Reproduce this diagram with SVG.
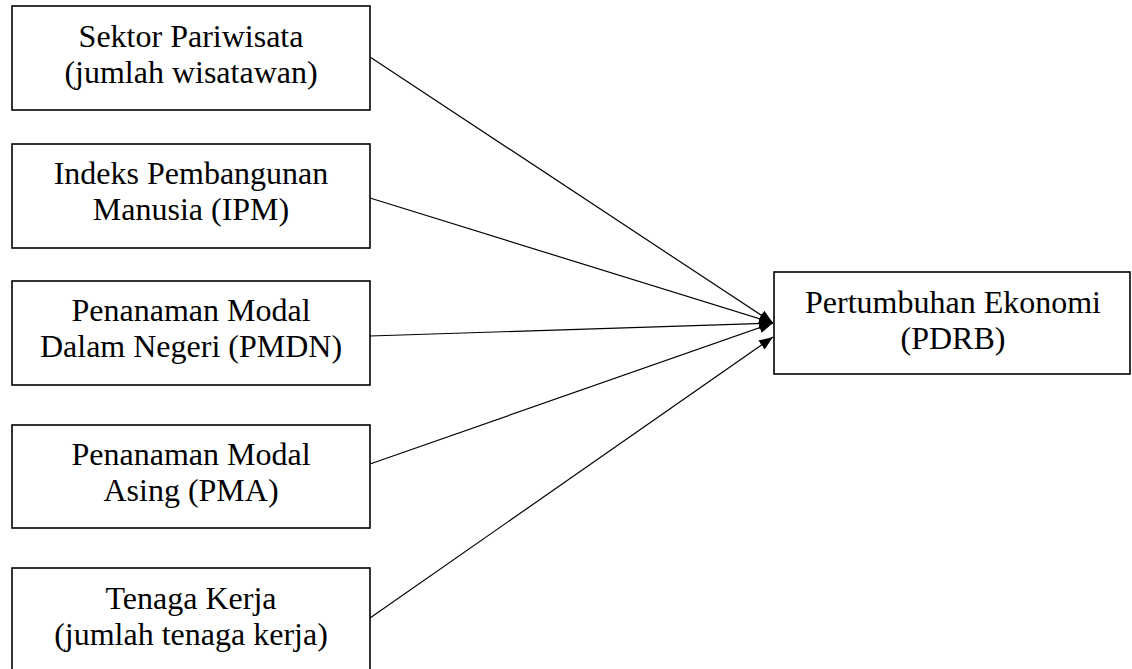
<svg xmlns="http://www.w3.org/2000/svg" width="1132" height="669" viewBox="0 0 1132 669">
<style>
.box{fill:#fff;stroke:#000;stroke-width:1.6}
.t{font-family:"Liberation Serif","Times New Roman",serif;font-size:32px;fill:#000;text-anchor:middle}
.c{stroke:#000;stroke-width:1.2;fill:none;marker-end:url(#ah)}
</style>
<defs>
<marker id="ah" markerWidth="14" markerHeight="11" refX="14" refY="5.5" orient="auto" markerUnits="userSpaceOnUse">
<path d="M0,0 L14,5.5 L0,11 Z" fill="#000"/>
</marker>
</defs>
<rect width="1132" height="669" fill="#fff"/>
<g id="connectors">
<line class="c" x1="370" y1="57" x2="773" y2="323"/>
<line class="c" x1="370" y1="198" x2="773" y2="323"/>
<line class="c" x1="370" y1="336" x2="773" y2="323"/>
<line class="c" x1="370" y1="464" x2="773" y2="323"/>
<line class="c" x1="370" y1="618" x2="773" y2="337"/>
</g>
<g id="n1">
<rect class="box" x="12" y="6" width="358" height="104"/>
<text class="t" x="191" y="47">Sektor Pariwisata</text>
<text class="t" x="191" y="83">(jumlah wisatawan)</text>
</g>
<g id="n2">
<rect class="box" x="12" y="144" width="358" height="104"/>
<text class="t" x="191" y="184">Indeks Pembangunan</text>
<text class="t" x="191" y="220">Manusia (IPM)</text>
</g>
<g id="n3">
<rect class="box" x="12" y="281" width="358" height="104"/>
<text class="t" x="191" y="321">Penanaman Modal</text>
<text class="t" x="191" y="357">Dalam Negeri (PMDN)</text>
</g>
<g id="n4">
<rect class="box" x="12" y="425" width="358" height="103"/>
<text class="t" x="191" y="465">Penanaman Modal</text>
<text class="t" x="191" y="501">Asing (PMA)</text>
</g>
<g id="n5">
<rect class="box" x="12" y="568" width="358" height="110"/>
<text class="t" x="191" y="609">Tenaga Kerja</text>
<text class="t" x="191" y="645">(jumlah tenaga kerja)</text>
</g>
<g id="n6">
<rect class="box" x="774" y="272" width="356" height="102"/>
<text class="t" x="953" y="313">Pertumbuhan Ekonomi</text>
<text class="t" x="953" y="349">(PDRB)</text>
</g>
</svg>
